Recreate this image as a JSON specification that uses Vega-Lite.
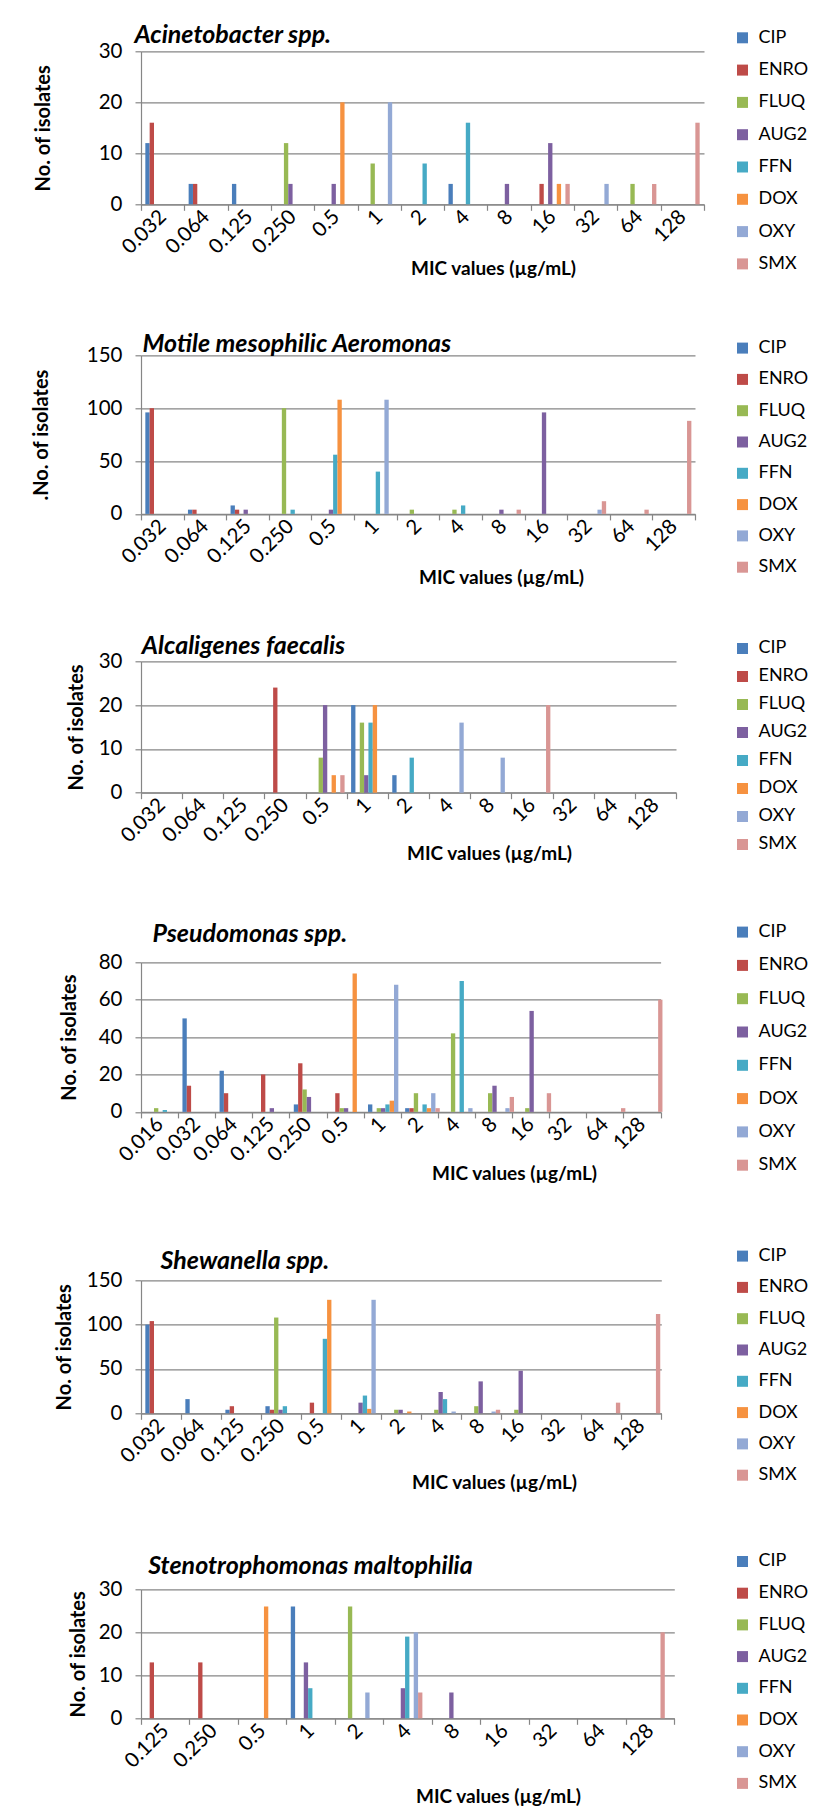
{
  "$schema": "https://vega.github.io/schema/vega-lite/v6.json",
  "background": "white",
  "padding": {"left": 31, "top": 23.3, "right": 0, "bottom": 0},
  "spacing": 40,
  "columns": 1,
  "center": false,
  "config": {
    "view": {"stroke": null},
    "font": "Lato",
    "title": {"font": "Lato", "fontSize": 25, "fontStyle": "italic", "fontWeight": "bold", "anchor": "start", "frame": "group", "baseline": "alphabetic", "color": "black"},
    "axis": {"labelFont": "Lato", "labelFontSize": 20.5, "labelColor": "black", "titleFont": "Lato", "titleFontSize": 20, "titleFontWeight": "bold", "titleColor": "black", "domainColor": "#868686", "tickColor": "#868686", "gridColor": "#868686", "domainWidth": 1.2, "tickWidth": 1.2, "gridWidth": 1.2, "tickSize": 6},
    "axisX": {"grid": false, "tickBand": "extent", "labelAngle": -45, "labelAlign": "right", "labelBaseline": "middle", "labelPadding": 3, "titleAlign": "center", "titleBaseline": "top", "titleFontSize": 19},
    "axisY": {"grid": true, "labelPadding": 13},
    "legend": {"orient": "none", "title": null, "symbolType": "square", "symbolSize": 121, "symbolStrokeWidth": 0, "labelFont": "Lato", "labelFontSize": 18, "labelColor": "black", "labelOffset": 7, "padding": 0}
  },
  "data": {"values": [
    {"org": "P1", "mic": "0.032", "ab": "CIP", "n": 12},
    {"org": "P1", "mic": "0.032", "ab": "ENRO", "n": 16},
    {"org": "P1", "mic": "0.064", "ab": "CIP", "n": 4},
    {"org": "P1", "mic": "0.064", "ab": "ENRO", "n": 4},
    {"org": "P1", "mic": "0.125", "ab": "CIP", "n": 4},
    {"org": "P1", "mic": "0.250", "ab": "FLUQ", "n": 12},
    {"org": "P1", "mic": "0.250", "ab": "AUG2", "n": 4},
    {"org": "P1", "mic": "0.5", "ab": "AUG2", "n": 4},
    {"org": "P1", "mic": "0.5", "ab": "DOX", "n": 20},
    {"org": "P1", "mic": "1", "ab": "FLUQ", "n": 8},
    {"org": "P1", "mic": "1", "ab": "OXY", "n": 20},
    {"org": "P1", "mic": "2", "ab": "FFN", "n": 8},
    {"org": "P1", "mic": "4", "ab": "CIP", "n": 4},
    {"org": "P1", "mic": "4", "ab": "FFN", "n": 16},
    {"org": "P1", "mic": "8", "ab": "AUG2", "n": 4},
    {"org": "P1", "mic": "16", "ab": "ENRO", "n": 4},
    {"org": "P1", "mic": "16", "ab": "AUG2", "n": 12},
    {"org": "P1", "mic": "16", "ab": "DOX", "n": 4},
    {"org": "P1", "mic": "16", "ab": "SMX", "n": 4},
    {"org": "P1", "mic": "32", "ab": "OXY", "n": 4},
    {"org": "P1", "mic": "64", "ab": "FLUQ", "n": 4},
    {"org": "P1", "mic": "64", "ab": "SMX", "n": 4},
    {"org": "P1", "mic": "128", "ab": "SMX", "n": 16},

    {"org": "P2", "mic": "0.032", "ab": "CIP", "n": 96},
    {"org": "P2", "mic": "0.032", "ab": "ENRO", "n": 100},
    {"org": "P2", "mic": "0.064", "ab": "CIP", "n": 4},
    {"org": "P2", "mic": "0.064", "ab": "ENRO", "n": 4},
    {"org": "P2", "mic": "0.125", "ab": "CIP", "n": 8},
    {"org": "P2", "mic": "0.125", "ab": "ENRO", "n": 4},
    {"org": "P2", "mic": "0.125", "ab": "AUG2", "n": 4},
    {"org": "P2", "mic": "0.250", "ab": "FLUQ", "n": 100},
    {"org": "P2", "mic": "0.250", "ab": "FFN", "n": 4},
    {"org": "P2", "mic": "0.5", "ab": "AUG2", "n": 4},
    {"org": "P2", "mic": "0.5", "ab": "FFN", "n": 56},
    {"org": "P2", "mic": "0.5", "ab": "DOX", "n": 108},
    {"org": "P2", "mic": "1", "ab": "FFN", "n": 40},
    {"org": "P2", "mic": "1", "ab": "OXY", "n": 108},
    {"org": "P2", "mic": "2", "ab": "FLUQ", "n": 4},
    {"org": "P2", "mic": "4", "ab": "FLUQ", "n": 4},
    {"org": "P2", "mic": "4", "ab": "FFN", "n": 8},
    {"org": "P2", "mic": "8", "ab": "AUG2", "n": 4},
    {"org": "P2", "mic": "8", "ab": "SMX", "n": 4},
    {"org": "P2", "mic": "16", "ab": "AUG2", "n": 96},
    {"org": "P2", "mic": "32", "ab": "OXY", "n": 4},
    {"org": "P2", "mic": "32", "ab": "SMX", "n": 12},
    {"org": "P2", "mic": "64", "ab": "SMX", "n": 4},
    {"org": "P2", "mic": "128", "ab": "SMX", "n": 88},

    {"org": "P3", "mic": "0.250", "ab": "ENRO", "n": 24},
    {"org": "P3", "mic": "0.5", "ab": "FLUQ", "n": 8},
    {"org": "P3", "mic": "0.5", "ab": "AUG2", "n": 20},
    {"org": "P3", "mic": "0.5", "ab": "DOX", "n": 4},
    {"org": "P3", "mic": "0.5", "ab": "SMX", "n": 4},
    {"org": "P3", "mic": "1", "ab": "CIP", "n": 20},
    {"org": "P3", "mic": "1", "ab": "FLUQ", "n": 16},
    {"org": "P3", "mic": "1", "ab": "AUG2", "n": 4},
    {"org": "P3", "mic": "1", "ab": "FFN", "n": 16},
    {"org": "P3", "mic": "1", "ab": "DOX", "n": 20},
    {"org": "P3", "mic": "2", "ab": "CIP", "n": 4},
    {"org": "P3", "mic": "2", "ab": "FFN", "n": 8},
    {"org": "P3", "mic": "4", "ab": "OXY", "n": 16},
    {"org": "P3", "mic": "8", "ab": "OXY", "n": 8},
    {"org": "P3", "mic": "16", "ab": "SMX", "n": 20},

    {"org": "P4", "mic": "0.016", "ab": "FLUQ", "n": 2},
    {"org": "P4", "mic": "0.016", "ab": "FFN", "n": 1},
    {"org": "P4", "mic": "0.032", "ab": "CIP", "n": 50},
    {"org": "P4", "mic": "0.032", "ab": "ENRO", "n": 14},
    {"org": "P4", "mic": "0.064", "ab": "CIP", "n": 22},
    {"org": "P4", "mic": "0.064", "ab": "ENRO", "n": 10},
    {"org": "P4", "mic": "0.125", "ab": "ENRO", "n": 20},
    {"org": "P4", "mic": "0.125", "ab": "AUG2", "n": 2},
    {"org": "P4", "mic": "0.250", "ab": "CIP", "n": 4},
    {"org": "P4", "mic": "0.250", "ab": "ENRO", "n": 26},
    {"org": "P4", "mic": "0.250", "ab": "FLUQ", "n": 12},
    {"org": "P4", "mic": "0.250", "ab": "AUG2", "n": 8},
    {"org": "P4", "mic": "0.5", "ab": "ENRO", "n": 10},
    {"org": "P4", "mic": "0.5", "ab": "FLUQ", "n": 2},
    {"org": "P4", "mic": "0.5", "ab": "AUG2", "n": 2},
    {"org": "P4", "mic": "0.5", "ab": "DOX", "n": 74},
    {"org": "P4", "mic": "1", "ab": "CIP", "n": 4},
    {"org": "P4", "mic": "1", "ab": "FLUQ", "n": 2},
    {"org": "P4", "mic": "1", "ab": "AUG2", "n": 2},
    {"org": "P4", "mic": "1", "ab": "FFN", "n": 4},
    {"org": "P4", "mic": "1", "ab": "DOX", "n": 6},
    {"org": "P4", "mic": "1", "ab": "OXY", "n": 68},
    {"org": "P4", "mic": "2", "ab": "CIP", "n": 2},
    {"org": "P4", "mic": "2", "ab": "ENRO", "n": 2},
    {"org": "P4", "mic": "2", "ab": "FLUQ", "n": 10},
    {"org": "P4", "mic": "2", "ab": "FFN", "n": 4},
    {"org": "P4", "mic": "2", "ab": "DOX", "n": 2},
    {"org": "P4", "mic": "2", "ab": "OXY", "n": 10},
    {"org": "P4", "mic": "2", "ab": "SMX", "n": 2},
    {"org": "P4", "mic": "4", "ab": "FLUQ", "n": 42},
    {"org": "P4", "mic": "4", "ab": "FFN", "n": 70},
    {"org": "P4", "mic": "4", "ab": "OXY", "n": 2},
    {"org": "P4", "mic": "8", "ab": "FLUQ", "n": 10},
    {"org": "P4", "mic": "8", "ab": "AUG2", "n": 14},
    {"org": "P4", "mic": "8", "ab": "OXY", "n": 2},
    {"org": "P4", "mic": "8", "ab": "SMX", "n": 8},
    {"org": "P4", "mic": "16", "ab": "FLUQ", "n": 2},
    {"org": "P4", "mic": "16", "ab": "AUG2", "n": 54},
    {"org": "P4", "mic": "16", "ab": "SMX", "n": 10},
    {"org": "P4", "mic": "64", "ab": "SMX", "n": 2},
    {"org": "P4", "mic": "128", "ab": "SMX", "n": 60},

    {"org": "P5", "mic": "0.032", "ab": "CIP", "n": 100},
    {"org": "P5", "mic": "0.032", "ab": "ENRO", "n": 104},
    {"org": "P5", "mic": "0.064", "ab": "CIP", "n": 16},
    {"org": "P5", "mic": "0.125", "ab": "CIP", "n": 4},
    {"org": "P5", "mic": "0.125", "ab": "ENRO", "n": 8},
    {"org": "P5", "mic": "0.250", "ab": "CIP", "n": 8},
    {"org": "P5", "mic": "0.250", "ab": "ENRO", "n": 4},
    {"org": "P5", "mic": "0.250", "ab": "FLUQ", "n": 108},
    {"org": "P5", "mic": "0.250", "ab": "AUG2", "n": 4},
    {"org": "P5", "mic": "0.250", "ab": "FFN", "n": 8},
    {"org": "P5", "mic": "0.5", "ab": "ENRO", "n": 12},
    {"org": "P5", "mic": "0.5", "ab": "FFN", "n": 84},
    {"org": "P5", "mic": "0.5", "ab": "DOX", "n": 128},
    {"org": "P5", "mic": "1", "ab": "AUG2", "n": 12},
    {"org": "P5", "mic": "1", "ab": "FFN", "n": 20},
    {"org": "P5", "mic": "1", "ab": "DOX", "n": 5},
    {"org": "P5", "mic": "1", "ab": "OXY", "n": 128},
    {"org": "P5", "mic": "2", "ab": "FLUQ", "n": 4},
    {"org": "P5", "mic": "2", "ab": "AUG2", "n": 4},
    {"org": "P5", "mic": "2", "ab": "DOX", "n": 2},
    {"org": "P5", "mic": "4", "ab": "FLUQ", "n": 4},
    {"org": "P5", "mic": "4", "ab": "AUG2", "n": 24},
    {"org": "P5", "mic": "4", "ab": "FFN", "n": 16},
    {"org": "P5", "mic": "4", "ab": "OXY", "n": 2},
    {"org": "P5", "mic": "8", "ab": "FLUQ", "n": 8},
    {"org": "P5", "mic": "8", "ab": "AUG2", "n": 36},
    {"org": "P5", "mic": "8", "ab": "OXY", "n": 2},
    {"org": "P5", "mic": "8", "ab": "SMX", "n": 4},
    {"org": "P5", "mic": "16", "ab": "FLUQ", "n": 4},
    {"org": "P5", "mic": "16", "ab": "AUG2", "n": 48},
    {"org": "P5", "mic": "64", "ab": "SMX", "n": 12},
    {"org": "P5", "mic": "128", "ab": "SMX", "n": 112},

    {"org": "P6", "mic": "0.125", "ab": "ENRO", "n": 13},
    {"org": "P6", "mic": "0.250", "ab": "ENRO", "n": 13},
    {"org": "P6", "mic": "0.5", "ab": "DOX", "n": 26},
    {"org": "P6", "mic": "1", "ab": "CIP", "n": 26},
    {"org": "P6", "mic": "1", "ab": "AUG2", "n": 13},
    {"org": "P6", "mic": "1", "ab": "FFN", "n": 7},
    {"org": "P6", "mic": "2", "ab": "FLUQ", "n": 26},
    {"org": "P6", "mic": "2", "ab": "OXY", "n": 6},
    {"org": "P6", "mic": "4", "ab": "AUG2", "n": 7},
    {"org": "P6", "mic": "4", "ab": "FFN", "n": 19},
    {"org": "P6", "mic": "4", "ab": "OXY", "n": 20},
    {"org": "P6", "mic": "4", "ab": "SMX", "n": 6},
    {"org": "P6", "mic": "8", "ab": "AUG2", "n": 6},
    {"org": "P6", "mic": "128", "ab": "SMX", "n": 20}
  ]},
  "resolve": {"legend": {"color": "independent"}},
  "concat": [
    {
      "width": 563, "height": 153,
      "title": {"text": "Acinetobacter spp.", "dx": -6.5, "offset": -19.5},
      "transform": [{"filter": "datum.org === 'P1'"}],
      "mark": {"type": "bar"},
      "encoding": {
        "x": {"field": "mic", "type": "nominal", "scale": {"domain": ["0.032","0.064","0.125","0.250","0.5","1","2","4","8","16","32","64","128"], "paddingInner": 0, "paddingOuter": 0}, "axis": {"title": ["MIC values (µg/mL)", ""], "titleLineHeight": 12.5, "titleX": 352, "titleY": 55.5}},
        "xOffset": {"field": "ab", "type": "nominal", "scale": {"domain": ["CIP","ENRO","FLUQ","AUG2","FFN","DOX","OXY","SMX"], "paddingInner": 0, "paddingOuter": 1}},
        "y": {"field": "n", "type": "quantitative", "scale": {"domain": [0, 30], "nice": false}, "axis": {"title": "No. of isolates", "values": [0, 10, 20, 30], "titlePadding": 44.5}},
        "color": {"field": "ab", "type": "nominal", "scale": {"domain": ["CIP","ENRO","FLUQ","AUG2","FFN","DOX","OXY","SMX"], "range": ["#4A7EBB","#BE4B48","#98B954","#7D60A0","#46AAC5","#F69240","#93A9D5","#D99694"]}, "legend": {"legendX": 592.5, "legendY": -22.5, "rowPadding": 14.3}}
      }
    },
    {
      "width": 554, "height": 158.6,
      "title": {"text": "Motile mesophilic Aeromonas", "dx": 1.5, "offset": -18.2},
      "transform": [{"filter": "datum.org === 'P2'"}],
      "mark": {"type": "bar"},
      "encoding": {
        "x": {"field": "mic", "type": "nominal", "scale": {"domain": ["0.032","0.064","0.125","0.250","0.5","1","2","4","8","16","32","64","128"], "paddingInner": 0, "paddingOuter": 0}, "axis": {"title": ["MIC values (µg/mL)", ""], "titleLineHeight": 6.8, "titleX": 360, "titleY": 54.5}},
        "xOffset": {"field": "ab", "type": "nominal", "scale": {"domain": ["CIP","ENRO","FLUQ","AUG2","FFN","DOX","OXY","SMX"], "paddingInner": 0, "paddingOuter": 1}},
        "y": {"field": "n", "type": "quantitative", "scale": {"domain": [0, 150], "nice": false}, "axis": {"title": ".No. of isolates", "values": [0, 50, 100, 150], "titlePadding": 35.2}},
        "color": {"field": "ab", "type": "nominal", "scale": {"domain": ["CIP","ENRO","FLUQ","AUG2","FFN","DOX","OXY","SMX"], "range": ["#4A7EBB","#BE4B48","#98B954","#7D60A0","#46AAC5","#F69240","#93A9D5","#D99694"]}, "legend": {"legendX": 592.5, "legendY": -16.2, "rowPadding": 13.3}}
      }
    },
    {
      "width": 535, "height": 131.4,
      "title": {"text": "Alcaligenes faecalis", "dx": 0.8, "offset": -19.8},
      "transform": [{"filter": "datum.org === 'P3'"}],
      "mark": {"type": "bar"},
      "encoding": {
        "x": {"field": "mic", "type": "nominal", "scale": {"domain": ["0.032","0.064","0.125","0.250","0.5","1","2","4","8","16","32","64","128"], "paddingInner": 0, "paddingOuter": 0}, "axis": {"title": ["MIC values (µg/mL)", ""], "titleLineHeight": 17, "titleX": 348, "titleY": 51.8}},
        "xOffset": {"field": "ab", "type": "nominal", "scale": {"domain": ["CIP","ENRO","FLUQ","AUG2","FFN","DOX","OXY","SMX"], "paddingInner": 0, "paddingOuter": 1}},
        "y": {"field": "n", "type": "quantitative", "scale": {"domain": [0, 30], "nice": false}, "axis": {"title": "No. of isolates", "values": [0, 10, 20, 30], "titlePadding": 11.5}},
        "color": {"field": "ab", "type": "nominal", "scale": {"domain": ["CIP","ENRO","FLUQ","AUG2","FFN","DOX","OXY","SMX"], "range": ["#4A7EBB","#BE4B48","#98B954","#7D60A0","#46AAC5","#F69240","#93A9D5","#D99694"]}, "legend": {"legendX": 592.5, "legendY": -21.8, "rowPadding": 10}}
      }
    },
    {
      "width": 519.6, "height": 149.6,
      "title": {"text": "Pseudomonas spp.", "dx": 11.5, "offset": -24},
      "transform": [{"filter": "datum.org === 'P4'"}],
      "mark": {"type": "bar"},
      "encoding": {
        "x": {"field": "mic", "type": "nominal", "scale": {"domain": ["0.016","0.032","0.064","0.125","0.250","0.5","1","2","4","8","16","32","64","128"], "paddingInner": 0, "paddingOuter": 0}, "axis": {"title": ["MIC values (µg/mL)", ""], "titleLineHeight": 22.7, "titleX": 373, "titleY": 52.5}},
        "xOffset": {"field": "ab", "type": "nominal", "scale": {"domain": ["CIP","ENRO","FLUQ","AUG2","FFN","DOX","OXY","SMX"], "paddingInner": 0, "paddingOuter": 1}},
        "y": {"field": "n", "type": "quantitative", "scale": {"domain": [0, 80], "nice": false}, "axis": {"title": "No. of isolates", "values": [0, 20, 40, 60, 80], "titlePadding": 18.5}},
        "color": {"field": "ab", "type": "nominal", "scale": {"domain": ["CIP","ENRO","FLUQ","AUG2","FFN","DOX","OXY","SMX"], "range": ["#4A7EBB","#BE4B48","#98B954","#7D60A0","#46AAC5","#F69240","#93A9D5","#D99694"]}, "legend": {"legendX": 592.5, "legendY": -39.2, "rowPadding": 15.3}}
      }
    },
    {
      "width": 520.3, "height": 133,
      "title": {"text": "Shewanella spp.", "dx": 19.5, "offset": -26.5},
      "transform": [{"filter": "datum.org === 'P5'"}],
      "mark": {"type": "bar"},
      "encoding": {
        "x": {"field": "mic", "type": "nominal", "scale": {"domain": ["0.032","0.064","0.125","0.250","0.5","1","2","4","8","16","32","64","128"], "paddingInner": 0, "paddingOuter": 0}, "axis": {"title": ["MIC values (µg/mL)", ""], "titleLineHeight": 20, "titleX": 353, "titleY": 59.8}},
        "xOffset": {"field": "ab", "type": "nominal", "scale": {"domain": ["CIP","ENRO","FLUQ","AUG2","FFN","DOX","OXY","SMX"], "paddingInner": 0, "paddingOuter": 1}},
        "y": {"field": "n", "type": "quantitative", "scale": {"domain": [0, 150], "nice": false}, "axis": {"title": "No. of isolates", "values": [0, 50, 100, 150], "titlePadding": 12.2}},
        "color": {"field": "ab", "type": "nominal", "scale": {"domain": ["CIP","ENRO","FLUQ","AUG2","FFN","DOX","OXY","SMX"], "range": ["#4A7EBB","#BE4B48","#98B954","#7D60A0","#46AAC5","#F69240","#93A9D5","#D99694"]}, "legend": {"legendX": 592.5, "legendY": -33.2, "rowPadding": 13.3}}
      }
    },
    {
      "width": 533.3, "height": 129,
      "title": {"text": "Stenotrophomonas maltophilia", "dx": 7.2, "offset": -26.8},
      "transform": [{"filter": "datum.org === 'P6'"}],
      "mark": {"type": "bar"},
      "encoding": {
        "x": {"field": "mic", "type": "nominal", "scale": {"domain": ["0.125","0.250","0.5","1","2","4","8","16","32","64","128"], "paddingInner": 0, "paddingOuter": 0}, "axis": {"title": "MIC values (µg/mL)", "titleBaseline": "middle", "titleX": 357, "titleY": 78}},
        "xOffset": {"field": "ab", "type": "nominal", "scale": {"domain": ["CIP","ENRO","FLUQ","AUG2","FFN","DOX","OXY","SMX"], "paddingInner": 0, "paddingOuter": 1}},
        "y": {"field": "n", "type": "quantitative", "scale": {"domain": [0, 30], "nice": false}, "axis": {"title": "No. of isolates", "values": [0, 10, 20, 30], "titlePadding": 9.5}},
        "color": {"field": "ab", "type": "nominal", "scale": {"domain": ["CIP","ENRO","FLUQ","AUG2","FFN","DOX","OXY","SMX"], "range": ["#4A7EBB","#BE4B48","#98B954","#7D60A0","#46AAC5","#F69240","#93A9D5","#D99694"]}, "legend": {"legendX": 592.5, "legendY": -36.8, "rowPadding": 13.7}}
      }
    }
  ]
}
